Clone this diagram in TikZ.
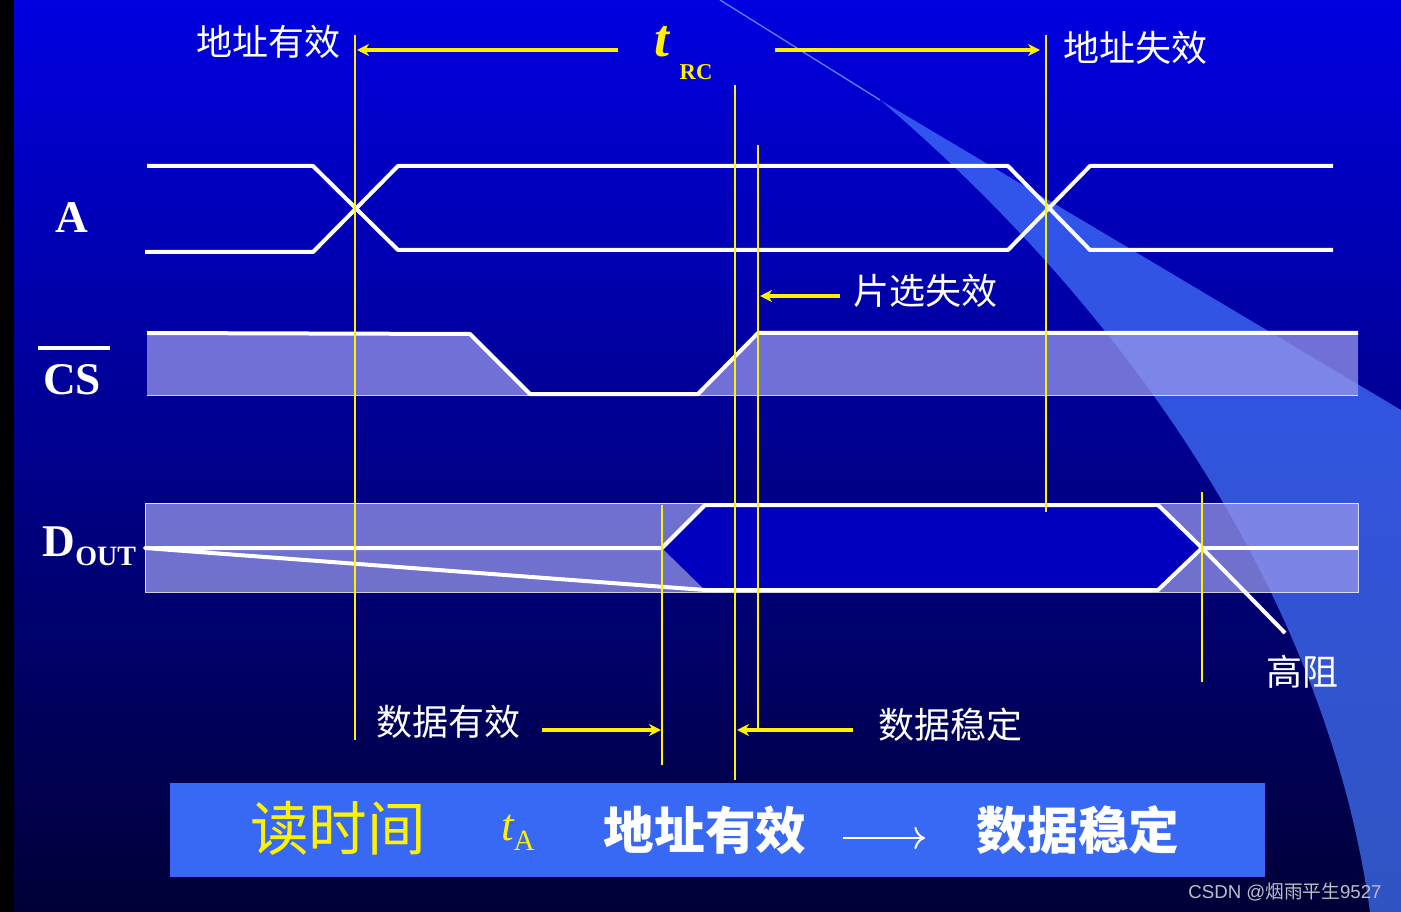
\documentclass[tikz,border=0pt]{standalone}
\usepackage{fontspec}
\usetikzlibrary{arrows.meta}
\setmainfont{Liberation Serif}
\newfontfamily\cjk{Noto Sans CJK SC}
\newfontfamily\wm{Liberation Sans}
\definecolor{bgtop}{RGB}{0,0,225}
\definecolor{bgbot}{RGB}{0,0,55}
\definecolor{sweep}{RGB}{70,120,255}
\definecolor{sweepl}{RGB}{90,130,255}
\definecolor{bandc}{RGB}{150,150,235}
\definecolor{hexc}{RGB}{0,0,190}
\definecolor{boxc}{RGB}{55,105,245}
\definecolor{wmc}{RGB}{190,190,200}
\begin{document}
\begin{tikzpicture}[x=0.75pt,y=-0.75pt,
  sig/.style={white,line width=3pt,line join=round},
  yl/.style={yellow,line width=1.5pt},
  ya/.style={yellow,line width=3pt,-{Stealth[length=9pt,width=9pt]}},
  band/.style={fill=bandc,fill opacity=0.75,draw=white,draw opacity=0.8,line width=0.6pt},
  lab/.style={white,font=\cjk\fontsize{27}{30}\selectfont},
  lat/.style={white,font=\bfseries\fontsize{34}{36}\selectfont}]
\useasboundingbox (0,0) rectangle (1401,912);
\shade[top color=bgtop,bottom color=bgbot] (0,0) rectangle (1401,912);
\fill[black] (0,0) rectangle (14,912);
% sweep
\fill[sweep,opacity=0.7] (880,100) -- (1401,410) -- (1401,912) -- (1370,912) .. controls (1330,620) and (1150,330) .. (880,100) -- cycle;
\draw[sweepl,line width=1pt] (720,0) -- (880,100);
% CS band
\fill[band,draw=none] (147,333) -- (470,334) -- (530,394) -- (698,394) -- (758,333) -- (1358,333) -- (1358,395) -- (147,395) -- cycle;
\draw[white,opacity=0.8] (147,395) -- (1358,395);
\draw[sig] (147,333) -- (470,334) -- (530,394) -- (698,394) -- (758,333) -- (1358,333);
% DOUT band
\fill[band] (145,503) rectangle (1358,592);
\fill[hexc] (662,548) -- (705,505) -- (1158,505) -- (1202,548) -- (1158,590) -- (705,590) -- cycle;
\draw[sig] (145,548) -- (662,548) -- (705,505) -- (1158,505) -- (1202,548) -- (1158,590) -- (705,590) -- cycle;
\draw[sig] (1202,548) -- (1358,548);
\draw[sig] (1202,548) -- (1285,633);
% A
\draw[sig] (147,166) -- (313,166) -- (398,250) -- (1008,250) -- (1090,166) -- (1333,166);
\draw[sig] (145,252) -- (313,252) -- (398,166) -- (1008,166) -- (1090,250) -- (1333,250);
% yellow verticals
\draw[yl] (355,35) -- (355,740);
\draw[yl] (735,85) -- (735,780);
\draw[yl] (758,145) -- (758,730);
\draw[yl] (1046,35) -- (1046,512);
\draw[yl] (662,505) -- (662,765);
\draw[yl] (1202,492) -- (1202,682);
% arrows
\coordinate (a1) at (618,50); \coordinate (a2) at (357,50);
\coordinate (b1) at (775,50); \coordinate (b2) at (1040,50);
\draw[ya] (a1) -- (a2); \draw[ya] (b1) -- (b2);
\node[yellow,font=\bfseries\itshape\fontsize{40}{40}\selectfont] (t) at (662,42) {t};
\node[yellow,font=\bfseries\fontsize{17}{17}\selectfont] (rc) at (696,72) {RC};
\coordinate (c1) at (840,296); \coordinate (c2) at (760,296);
\draw[ya] (c1) -- (c2);
\node[lab] (pxsx) at (925,291) {片选失效};
\coordinate (d1) at (542,730); \coordinate (d2) at (661,730);
\draw[ya] (d1) -- (d2);
\coordinate (e1) at (853,730); \coordinate (e2) at (737,730);
\draw[ya] (e1) -- (e2);
\node[lab] (sjyx) at (448,722) {数据有效};
\node[lab] (sjwd) at (950,725) {数据稳定};
\node[lab] (dzyx) at (268,42) {地址有效};
\node[lab] (dzsx) at (1135,48) {地址失效};
\node[lab] (gz) at (1302,672) {高阻};
\node[lat] (A) at (72,218) {A};
\node[lat] (CS) at (72,380) {CS};
\draw[white,line width=2.5pt] (38,348) -- (110,348);
\node[lat,anchor=west] (D) at (38,546) {D\raisebox{-0.45ex}{\fontsize{21}{21}\selectfont OUT}};
% bottom box
\fill[boxc] (170,783) rectangle (1265,877);
\node[yellow,font=\cjk\fontsize{44}{46}\selectfont] (dsj) at (338,828) {读时间};
\node[yellow,font=\itshape\fontsize{34}{34}\selectfont] (tA) at (518,833) {t\raisebox{-0.5ex}{\fontsize{22}{22}\selectfont\upshape A}};
\node[white,font=\cjk\bfseries\fontsize{38}{40}\selectfont] (b1t) at (705,830) {地址有效};
\coordinate (f1) at (843,838); \coordinate (f2) at (925,838);
\draw[white,line width=1.5pt,-{To[length=8pt]}] (f1) -- (f2);
\node[white,font=\cjk\bfseries\fontsize{38}{40}\selectfont] (b2t) at (1078,830) {数据稳定};
\node[wmc,font=\wm\fontsize{14}{14}\selectfont] (wm) at (1285,892) {CSDN @{\cjk 烟雨平生}9527};
\end{tikzpicture}
\end{document}
